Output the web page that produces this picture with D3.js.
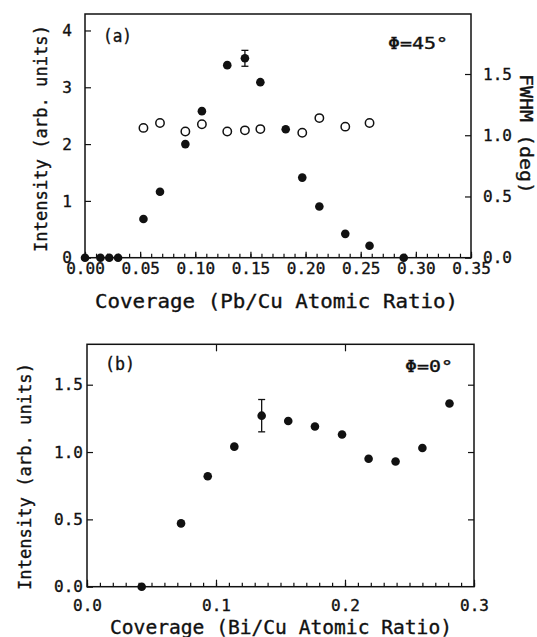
<!DOCTYPE html>
<html>
<head>
<meta charset="utf-8">
<script src="https://cdn.jsdelivr.net/npm/d3@7"></script>
<style>
  body { margin: 0; background: #fff; }
  svg text { font-family: "DejaVu Sans Mono", monospace; fill: #111; stroke: #111; stroke-width: 0.35px; }
  .domain { display: none; }
</style>
</head>
<body>
<main></main>
<script>
// panel (a) : Pb on Cu, phi = 45
const covPb = [0, 0.014, 0.022, 0.030, 0.053, 0.068, 0.091, 0.106, 0.129, 0.145, 0.159, 0.182, 0.197, 0.2125, 0.236, 0.258, 0.289];
const intPb = [0, 0, 0, 0, 0.68, 1.16, 2.0, 2.58, 3.39, 3.51, 3.09, 2.26, 1.41, 0.90, 0.42, 0.21, 0];
const errPb = [0, 0, 0, 0, 0, 0, 0, 0, 0, 0.14, 0, 0, 0, 0, 0, 0, 0];
const covFwhm = [0.053, 0.068, 0.091, 0.106, 0.129, 0.145, 0.159, 0.197, 0.2125, 0.236, 0.258];
const fwhm = [1.06, 1.10, 1.03, 1.09, 1.03, 1.04, 1.05, 1.02, 1.14, 1.07, 1.10];

// panel (b) : Bi on Cu, phi = 0
const covBi = [0.0424, 0.0729, 0.0936, 0.1142, 0.1354, 0.156, 0.1767, 0.1977, 0.2183, 0.2392, 0.260, 0.281];
const intBi = [0, 0.47, 0.82, 1.04, 1.27, 1.23, 1.19, 1.13, 0.95, 0.93, 1.03, 1.36];
const errBi = [0, 0, 0, 0, 0.12, 0, 0, 0, 0, 0, 0, 0];

const w = 537;
const h = 637;

var svg = d3.select('main')
    .append('svg')
    .attr('width', w)
    .attr('height', h);

// ---------- panel (a) ----------
const xA = d3.scaleLinear().domain([0, 0.35]).range([85, 471]);
const yA = d3.scaleLinear().domain([0, 4.29]).range([257.7, 14]);
const yF = d3.scaleLinear().domain([0, 1.99]).range([257.7, 14]);

// ---------- panel (b) ----------
const xB = d3.scaleLinear().domain([0, 0.3]).range([87, 474]);
const yB = d3.scaleLinear().domain([0, 1.8]).range([586.7, 344.3]);

function marco(x, y) {
    svg.append('rect')
        .attr('x', x.range()[0])
        .attr('y', y.range()[1])
        .attr('width', x.range()[1] - x.range()[0])
        .attr('height', y.range()[0] - y.range()[1])
        .attr('fill', 'none')
        .attr('stroke', '#111')
        .attr('stroke-width', 1.5);
}

function estiloTicks(g) {
    g.selectAll('line').attr('stroke', '#111').attr('stroke-width', 1.2);
    g.selectAll('text').attr('font-size', '16px').attr('font-family', '"DejaVu Sans Mono", monospace').attr('fill', '#111');
}

// ejes (a)
svg.append('g')
    .attr('transform', `translate(0,${yA.range()[0]})`)
    .call(d3.axisBottom(xA).tickValues(d3.range(0, 36).map((i) => i / 100)).tickSize(-4).tickFormat(''))
    .call(estiloTicks);

svg.append('g')
    .attr('transform', `translate(0,${yA.range()[0]})`)
    .call(d3.axisBottom(xA).tickValues(d3.range(0, 8).map((i) => i * 0.05)).tickSize(-6).tickPadding(5).tickFormat(d3.format('.2f')))
    .call(estiloTicks);

svg.append('g')
    .attr('transform', `translate(${xA.range()[0]},0)`)
    .call(d3.axisLeft(yA).tickValues([0, 1, 2, 3, 4]).tickSize(-6).tickPadding(13).tickFormat(d3.format('d')))
    .call(estiloTicks);

svg.append('g')
    .attr('transform', `translate(${xA.range()[1]},0)`)
    .call(d3.axisRight(yF).tickValues([0, 0.5, 1, 1.5]).tickSize(-6).tickPadding(12).tickFormat(d3.format('.1f')))
    .call(estiloTicks);

marco(xA, yA);

// ejes (b)
svg.append('g')
    .attr('transform', `translate(0,${yB.range()[0]})`)
    .call(d3.axisBottom(xB).tickValues(d3.range(0, 31).map((i) => i / 100)).tickSize(-4).tickFormat(''))
    .call(estiloTicks);

svg.append('g')
    .attr('transform', `translate(0,${yB.range()[0]})`)
    .call(d3.axisBottom(xB).tickValues([0, 0.1, 0.2, 0.3]).tickSize(-7).tickPadding(13).tickFormat(d3.format('.1f')))
    .call(estiloTicks);

svg.append('g')
    .attr('transform', `translate(0,${yB.range()[1]})`)
    .call(d3.axisTop(xB).tickValues([0.1, 0.2]).tickSize(-7).tickFormat(''))
    .call(estiloTicks);

svg.append('g')
    .attr('transform', `translate(${xB.range()[0]},0)`)
    .call(d3.axisLeft(yB).tickValues([0, 0.5, 1, 1.5]).tickSize(-6).tickPadding(4).tickFormat(d3.format('.1f')))
    .call(estiloTicks);

svg.append('g')
    .attr('transform', `translate(${xB.range()[1]},0)`)
    .call(d3.axisRight(yB).tickValues([0.5, 1, 1.5]).tickSize(-6).tickFormat(''))
    .call(estiloTicks);

marco(xB, yB);

// barras de error
function errores(cov, val, err, x, y) {
    const idx = d3.range(cov.length).filter((i) => err[i] > 0);
    const g = svg.append('g').attr('stroke', '#111').attr('stroke-width', 1.3);
    idx.forEach((i) => {
        const cx = x(cov[i]);
        g.append('line').attr('x1', cx).attr('x2', cx).attr('y1', y(val[i] - err[i])).attr('y2', y(val[i] + err[i]));
        g.append('line').attr('x1', cx - 3.5).attr('x2', cx + 3.5).attr('y1', y(val[i] - err[i])).attr('y2', y(val[i] - err[i]));
        g.append('line').attr('x1', cx - 3.5).attr('x2', cx + 3.5).attr('y1', y(val[i] + err[i])).attr('y2', y(val[i] + err[i]));
    });
}

errores(covPb, intPb, errPb, xA, yA);
errores(covBi, intBi, errBi, xB, yB);

// puntos abiertos (FWHM)
svg.append('g')
    .selectAll('circle')
    .data(d3.range(covFwhm.length))
    .enter()
    .append('circle')
    .attr('cx', (i) => xA(covFwhm[i]))
    .attr('cy', (i) => yF(fwhm[i]))
    .attr('r', 4.2)
    .attr('fill', '#fff')
    .attr('stroke', '#111')
    .attr('stroke-width', 1.5);

// puntos llenos
svg.append('g')
    .selectAll('circle')
    .data(d3.range(covPb.length))
    .enter()
    .append('circle')
    .attr('cx', (i) => xA(covPb[i]))
    .attr('cy', (i) => yA(intPb[i]))
    .attr('r', 4.3)
    .attr('fill', '#111');

svg.append('g')
    .selectAll('circle')
    .data(d3.range(covBi.length))
    .enter()
    .append('circle')
    .attr('cx', (i) => xB(covBi[i]))
    .attr('cy', (i) => yB(intBi[i]))
    .attr('r', 4.3)
    .attr('fill', '#111');

// textos
function texto(txt, x, y, size, len, rot, anchor) {
    const t = svg.append('text')
        .attr('transform', `translate(${x},${y}) rotate(${rot || 0})`)
        .attr('font-size', size + 'px')
        .attr('text-anchor', anchor || 'middle')
        .text(txt);
    if (len) t.attr('textLength', len).attr('lengthAdjust', 'spacingAndGlyphs');
    return t;
}

texto('Coverage (Pb/Cu Atomic Ratio)', 276.5, 308, 19, 363);
texto('Intensity (arb. units)', 47, 138.5, 18, 227, -90);
texto('FWHM (deg)', 520, 134, 17, 120, 90);
texto('(a)', 103, 42, 17, 29, 0, 'start');
texto('\u03A6=45\u00B0', 388, 49, 15, 60, 0, 'start');

texto('Coverage (Bi/Cu Atomic Ratio)', 281, 634, 19, 342);
texto('Intensity (arb. units)', 31, 476.5, 18, 227, -90);
texto('(b)', 105, 370, 17, 30, 0, 'start');
texto('\u03A6=0\u00B0', 405, 372, 15, 48, 0, 'start');
</script>
</body>
</html>
